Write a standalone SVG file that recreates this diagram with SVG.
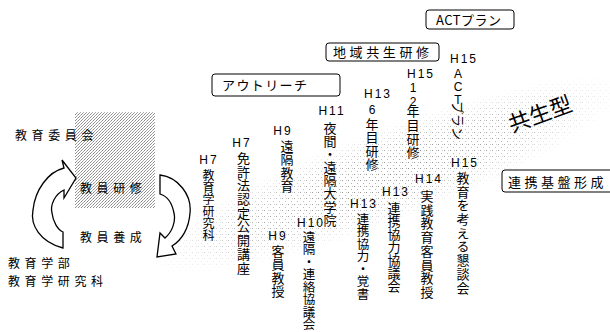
<svg xmlns="http://www.w3.org/2000/svg" width="610" height="332" viewBox="0 0 610 332">
<style>
.j{font-family:"Noto Sans CJK JP","Noto Sans CJK SC",sans-serif;fill:#000}
.vt{font-size:13px;writing-mode:vertical-rl;text-orientation:mixed}
.vu{font-family:"Liberation Sans",Arial,sans-serif;font-size:12px;fill:#000;writing-mode:vertical-rl;text-orientation:upright}
.h{font-size:12px;letter-spacing:4.6px}
.l{font-family:"Liberation Sans",Arial,sans-serif;font-size:12px;fill:#000;text-anchor:middle;letter-spacing:2px}
.d{font-family:"Liberation Sans",Arial,sans-serif;font-size:12px;fill:#000;text-anchor:middle}
.box{fill:#fff;stroke:#000;stroke-width:1}
.arr{fill:#fff;stroke:#000;stroke-width:1.3;stroke-linejoin:miter}
</style>
<defs>
<pattern id="dense" width="3" height="3" patternUnits="userSpaceOnUse">
<rect x="0" y="0" width="1" height="1" fill="#888"/>
<rect x="2" y="1" width="1" height="1" fill="#aaa"/>
<rect x="1" y="2" width="1" height="1" fill="#999"/>
</pattern>
<pattern id="sparse" width="6" height="6" patternUnits="userSpaceOnUse">
<rect x="0" y="0" width="1" height="1" fill="#888"/>
<rect x="3" y="3" width="1" height="1" fill="#aaa"/>
<rect x="4" y="0" width="1" height="1" fill="#bbb"/>
</pattern>
<radialGradient id="fade">
<stop offset="0" stop-color="#fff"/>
<stop offset="0.55" stop-color="#fff" stop-opacity="0.7"/>
<stop offset="1" stop-color="#fff" stop-opacity="0"/>
</radialGradient>
<mask id="bandmask" maskUnits="userSpaceOnUse" x="0" y="0" width="610" height="332">
<ellipse cx="388" cy="175" rx="255" ry="48" fill="url(#fade)" transform="rotate(-20.6 388 175)"/>
</mask>
</defs>
<rect width="610" height="332" fill="#fff"/>
<g id="band">
<rect width="610" height="332" fill="url(#sparse)" mask="url(#bandmask)"/>
</g>
<rect id="shade" x="75" y="112" width="80" height="96" fill="url(#dense)"/>

<g id="connectors">
<path class="arr" d="M63,248 C40,242 30,225 33,210 C35,190 48,172 64,168 L62,160 L76,178 L64,198 L64,190 C55,194 50,205 52,213 C53,222 58,230 63,232 Z"/>
<path class="arr" d="M160,175 C178,177 192,195 190,213 C189,228 182,240 172,246 L176,254 L157,257 L160,233 L165,238 C172,232 176,222 174,213 C172,203 167,196 160,194 Z"/>
</g>

<g id="kyouiku-iinkai"><text class="j h" x="15" y="140">教育委員会</text></g>
<g id="kyouin-kenshu"><text class="j h" x="80" y="193">教員研修</text></g>
<g id="kyouin-yousei"><text class="j h" x="80" y="242">教員養成</text></g>
<g id="gakubu"><text class="j h" x="8" y="268">教育学部</text><text class="j h" x="8" y="286">教育学研究科</text></g>

<g id="box-act"><rect class="box" x="426" y="10" width="88" height="19" rx="3"/><text class="j" x="436" y="25" font-size="13" letter-spacing="0.5">ACTプラン</text></g>
<g id="box-chiiki"><rect class="box" x="326" y="43" width="113" height="18" rx="3"/><text class="j" x="333" y="57" font-size="13" letter-spacing="3.6">地域共生研修</text></g>
<g id="box-outreach"><rect class="box" x="212" y="74" width="128" height="22" rx="3"/><text class="j" x="222" y="90" font-size="13" letter-spacing="1.4">アウトリーチ</text></g>
<g id="box-renkei"><rect class="box" x="502" y="170" width="112" height="22" rx="3"/><text class="j" x="508" y="187" font-size="13" letter-spacing="3.5">連携基盤形成</text></g>

<g id="kyouseigata"><text class="j" x="540" y="122" font-size="22" text-anchor="middle" transform="rotate(-20 540 114)">共生型</text></g>

<g id="c1"><text class="l" x="209" y="164">H7</text>
<text class="j vt" x="208.5" y="169" style="font-size:12px">教育学研究科</text></g>

<g id="c2"><text class="l" x="242" y="147">H7</text>
<text class="j vt" x="243.5" y="151.5" letter-spacing="0.7">免許法認定公開講座</text></g>

<g id="c3"><text class="l" x="283" y="135">H9</text>
<text class="j vt" x="287" y="139.5" letter-spacing="0.5">遠隔教育</text></g>

<g id="c4"><text class="l" x="332" y="115">H11</text>
<text class="j vt" x="330" y="121.5" letter-spacing="0.1">夜間・遠隔大学院</text></g>

<g id="c5"><text class="l" x="378" y="98">H13</text>
<text class="d" x="372" y="114">6</text>
<text class="j vt" x="372" y="117.5" letter-spacing="0.3">年目研修</text></g>

<g id="c6"><text class="l" x="421" y="78">H15</text>
<text class="vu" x="413" y="81">12</text>
<text class="j vt" x="413" y="105" letter-spacing="0.6">年目研修</text></g>

<g id="c7"><text class="l" x="464" y="63">H15</text>
<text class="vu" x="458" y="66.5" letter-spacing="-1">ACT</text>
<text class="j" x="458" y="101" font-size="13" dominant-baseline="central" transform="rotate(90 458 101)">プラン</text></g>

<g id="c8"><text class="l" x="465" y="167">H15</text>
<text class="j vt" x="463" y="171.5" letter-spacing="0.7">教育を考える懇談会</text></g>

<g id="c9"><text class="l" x="429" y="183">H14</text>
<text class="j vt" x="427" y="189.5" letter-spacing="0.75">実践教育客員教授</text></g>

<g id="c10"><text class="l" x="396" y="196">H13</text>
<text class="j vt" x="394" y="201.5">連携協力協議会</text></g>

<g id="c11"><text class="l" x="364" y="208">H13</text>
<text class="j vt" x="363" y="212.5" style="font-size:12.5px">連携協力・覚書</text></g>

<g id="c12"><text class="l" x="311" y="227">H10</text>
<text class="j vt" x="309" y="230.5" style="font-size:12.5px">遠隔・連絡協議会</text></g>

<g id="c13"><text class="l" x="278" y="240">H9</text>
<text class="j vt" x="278" y="244.5" letter-spacing="0.5">客員教授</text></g>
</svg>
